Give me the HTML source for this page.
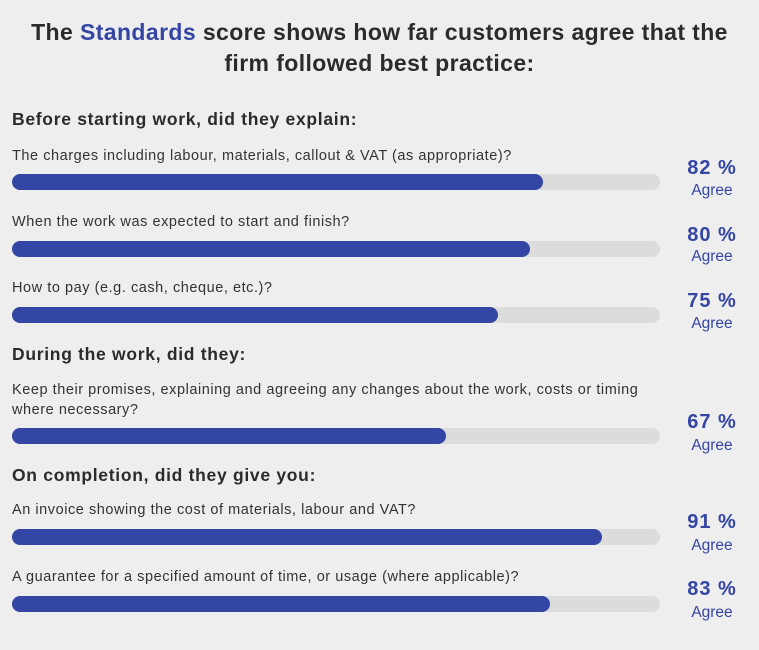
<!DOCTYPE html>
<html><head><meta charset="utf-8"><style>
body{margin:0;width:759px;height:650px;background:#eeeeee;font-family:"Liberation Sans",sans-serif;position:relative;overflow:hidden;color:#2a2a2a}
.t{position:absolute;left:0;width:759px;text-align:center;font-weight:bold;font-size:23px;letter-spacing:0.4px;line-height:31px;top:17px;color:#2b2b2b}
.t span{color:#3445a3}
.h{position:absolute;left:12px;font-weight:bold;font-size:17.5px;letter-spacing:0.7px;color:#2b2b2b}
.l{position:absolute;left:12px;font-size:14.5px;letter-spacing:0.55px;line-height:20px;color:#333;width:735px}
.b{position:absolute;left:12px;width:648px;height:16px;border-radius:8px;background:#dcdcdc}
.b div{height:16px;border-radius:8px;background:#3346a4}
.p{position:absolute;left:662px;width:100px;text-align:center;color:#3445a3;font-weight:bold;font-size:20px;letter-spacing:1px}
.a{position:absolute;left:662px;width:100px;text-align:center;color:#3445a3;font-size:15.5px}
</style></head><body>
<div class="t">The <span>Standards</span> score shows how far customers agree that the<br>firm followed best practice:</div>
<div class="h" style="top:109px">Before starting work, did they explain:</div>
<div class="l" style="top:146px">The charges including labour, materials, callout &amp; VAT (as appropriate)?</div>
<div class="b" style="top:174px"><div style="width:82%"></div></div>
<div class="p" style="top:157px">82 %</div><div class="a" style="top:182px">Agree</div>
<div class="l" style="top:212px">When the work was expected to start and finish?</div>
<div class="b" style="top:241px"><div style="width:80%"></div></div>
<div class="p" style="top:224px">80 %</div><div class="a" style="top:248px">Agree</div>
<div class="l" style="top:278px">How to pay (e.g. cash, cheque, etc.)?</div>
<div class="b" style="top:307px"><div style="width:75%"></div></div>
<div class="p" style="top:290px">75 %</div><div class="a" style="top:315px">Agree</div>
<div class="h" style="top:344px">During the work, did they:</div>
<div class="l" style="top:380px">Keep their promises, explaining and agreeing any changes about the work, costs or timing<br>where necessary?</div>
<div class="b" style="top:428px"><div style="width:67%"></div></div>
<div class="p" style="top:411px">67 %</div><div class="a" style="top:437px">Agree</div>
<div class="h" style="top:465px">On completion, did they give you:</div>
<div class="l" style="top:500px">An invoice showing the cost of materials, labour and VAT?</div>
<div class="b" style="top:529px"><div style="width:91%"></div></div>
<div class="p" style="top:511px">91 %</div><div class="a" style="top:537px">Agree</div>
<div class="l" style="top:567px">A guarantee for a specified amount of time, or usage (where applicable)?</div>
<div class="b" style="top:596px"><div style="width:83%"></div></div>
<div class="p" style="top:578px">83 %</div><div class="a" style="top:604px">Agree</div>
</body></html>
